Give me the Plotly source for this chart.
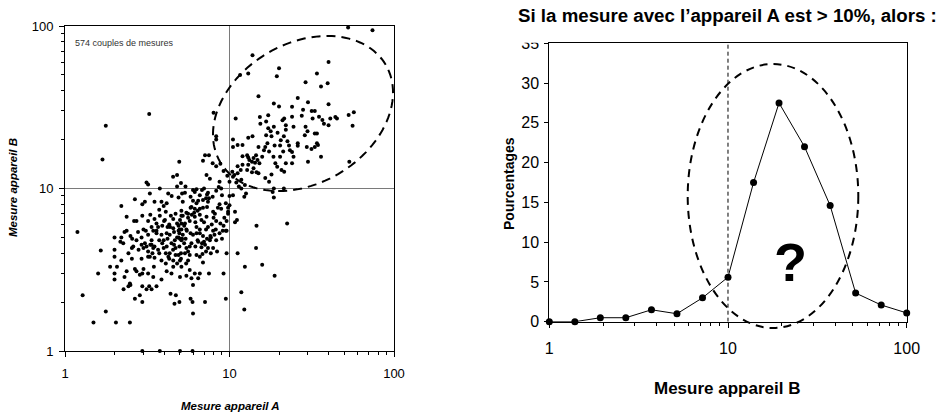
import math
import plotly.graph_objects as go

W, H = 946, 414
FONT = "Liberation Sans, Arial, sans-serif"

nuage_haut = [
    (52.6, 98), (74, 94), (13.8, 66), (40, 60), (20, 55), (19.4, 49), (11.6, 50), (13, 51),
    (34, 51), (29, 45), (39.5, 44.5), (36, 42.5), (15, 37), (26, 36), (40, 33), (30, 34),
    (18.6, 33.4), (20, 32), (24, 31.8), (28, 30.5), (31.6, 30), (33, 30), (57, 29.5), (53, 28.3),
    (44, 27.5), (45, 27), (32, 27), (24, 27.6), (21.5, 27), (21, 26.3), (27.5, 28), (15.3, 27.5),
    (16.7, 25.8), (17.2, 28.2), (15.4, 25), (18.6, 24), (22, 24.5), (24.5, 24), (35, 27.6),
    (36.7, 26.4), (37.5, 25), (40, 24.5), (41, 27), (29, 24), (28.7, 21.3), (29.8, 22.5),
    (33, 21.8), (56, 24.3), (53.5, 14.6), (17.2, 23.5), (17.8, 22.5), (16.7, 21.3), (18, 21),
    (19.6, 22), (20.5, 19.8), (21.4, 21), (22, 23), (22.5, 19.5), (20.3, 18.4), (18.8, 18.4),
    (17, 19), (16.5, 18), (15, 18), (13.8, 21), (13, 20.5), (12, 18.5), (10.5, 20), (10.5, 18),
    (11.2, 18.5), (23, 18.4), (23.3, 17.2), (26, 18.3), (26, 19), (29.5, 18), (31.5, 17.5),
    (33, 18), (34.5, 18.5), (34, 19), (34, 21.8), (36, 15.7), (30, 14.6), (24, 16.8),
    (24.5, 15.7), (24, 14.3), (22, 14.3), (21.5, 12.7), (20.7, 13), (18.5, 15.7), (19, 14.3),
    (19.5, 13.6), (18, 12.2), (17.4, 11), (16.5, 11.6), (15.2, 14.3), (15.8, 15.7), (14.5, 16),
    (14.8, 15), (14, 15.4), (13.7, 14.6), (14.3, 14.4), (14, 13.3), (14.6, 12.6), (13.7, 12.6),
    (13, 14), (12.8, 13), (13.2, 15), (12, 14), (11.7, 13), (11.2, 12.4), (10.7, 12.1), (10, 11),
    (10.4, 12.7), (11.2, 13.7), (12, 15.8), (12.8, 16), (13, 15.5), (16.2, 17.2), (17.4, 16.9),
    (21.2, 16.9), (20.3, 15.7), (15, 12.4), (11.8, 11.3), (12.4, 10.5), (11.4, 10.3), (11, 10.9),
    (10.5, 11.8), (9.7, 12), (9.2, 12.8), (8.8, 14.2), (8.3, 13.7), (7.9, 14.3), (8.7, 11),
    (6.9, 14.8), (7.1, 16), (7.5, 16), (8.3, 20), (8.3, 21), (8.0, 29.3), (10.9, 27), (3.25, 28.7),
    (1.77, 24.3), (1.69, 15.1), (4.95, 14.6), (4.8, 12.1),
]
nuage_droite = [
    (21.4, 10), (18.6, 10), (18.3, 9.5), (18.6, 8.8), (12.6, 9.3), (12.3, 8.9), (11.8, 10),
    (10.5, 9.1), (10, 9), (10, 7.9), (9.8, 7.2), (10.8, 7.2), (11.1, 6.4), (10.8, 6.2), (11.2, 4.0),
    (14.5, 4.3), (14.6, 5.9), (12.4, 3.3), (15.8, 3.4), (18.8, 2.9), (22.4, 6.1), (11.8, 2.3),
    (12.3, 1.8), (9.5, 2.1), (9.2, 3.0), (9.6, 5.5), (9.6, 4.0),
]
nuage_bas = [
    (1.19, 5.4), (1.28, 2.2), (1.49, 1.5), (1.59, 3.0), (1.65, 4.15), (1.77, 1.75), (2.04, 1.5),
    (2.48, 1.5), (1.88, 3.3), (2.0, 3.0), (2.0, 2.75), (2.07, 3.3), (2.0, 4.2), (2.0, 5.0),
    (2.2, 7.8), (2.2, 5.0), (2.27, 2.4), (2.37, 5.5), (2.37, 6.7), (2.43, 2.5), (2.48, 2.6),
    (2.56, 4.9), (2.43, 4.0), (2.55, 3.7), (2.37, 3.1), (2.66, 3.2), (2.66, 2.1), (2.66, 8.6),
    (2.63, 6.3), (2.72, 6.3), (2.78, 5.4), (2.72, 3.1), (2.85, 2.95), (2.85, 2.2), (2.95, 2.0),
    (2.95, 3.0), (2.92, 4.5), (2.92, 5.0), (2.95, 6.8), (2.95, 8.0), (3.06, 8.3), (3.13, 10.9),
    (3.2, 10.6), (3.28, 9.3), (3.1, 5.5), (3.13, 4.4), (3.2, 3.8), (3.28, 3.8), (3.2, 3.0),
    (3.25, 2.5), (3.36, 2.4), (3.47, 3.3), (3.44, 4.3), (3.36, 4.5), (3.44, 5.5), (3.5, 6.5),
    (3.5, 8.3), (3.77, 10), (3.86, 8.3), (3.74, 7.4), (3.68, 5.8), (3.6, 5.3), (3.74, 4.8),
    (3.74, 4.0), (3.86, 3.6), (3.98, 4.3), (4.0, 6.3), (4.05, 6.4), (4.15, 5.3), (4.2, 5.8),
    (4.24, 9.3), (4.33, 5.2), (4.44, 4.6), (4.54, 11.8), (4.54, 4.2), (4.44, 3.0), (4.38, 2.25),
    (4.63, 1.95), (4.72, 2.2), (4.96, 2.0), (5.07, 10.8), (5.1, 6.8), (5.0, 6.4), (4.96, 5.3),
    (4.9, 5.0), (5.0, 4.9), (5.1, 4.8), (4.96, 4.4), (5.07, 4.0), (5.0, 3.6), (5.1, 3.3),
    (5.0, 2.85), (5.36, 9.4), (5.47, 5.6), (5.36, 6.1), (5.41, 4.9), (5.47, 4.3), (5.45, 3.45),
    (5.47, 2.9), (5.6, 7.0), (5.73, 6.3), (5.8, 5.3), (5.87, 4.6), (5.73, 3.15), (5.87, 2.8),
    (6.0, 2.55), (5.8, 2.1), (5.96, 2.0), (6.0, 1.7), (6.15, 7.5), (6.15, 6.7), (6.3, 5.8),
    (6.45, 4.7), (6.3, 3.9), (6.15, 3.0), (6.45, 2.8), (6.6, 3.0), (6.6, 3.8), (6.75, 4.35),
    (6.6, 5.3), (6.75, 6.4), (6.6, 7.5), (7.0, 10), (7.1, 4.5), (7.2, 5.6), (7.25, 6.7),
    (7.3, 7.7), (7.4, 8.3), (7.4, 9.4), (7.5, 3.0), (7.6, 4.8), (7.65, 5.1), (7.95, 5.5),
    (8.15, 7.0), (8.25, 5.6), (8.4, 4.1), (8.5, 7.6), (8.7, 5.3), (9.0, 4.9), (9.1, 5.5),
    (8.9, 7.5), (9.5, 5.5), (9.3, 6.6), (9.8, 7.0), (8.9, 10.0), (7.5, 8.7), (7.3, 9.2),
    (6.9, 8.5), (6.6, 9.1), (6.15, 9.5), (6.9, 7.6), (5.47, 7.1), (5.2, 6.8), (5.1, 6.1),
    (4.8, 6.1), (4.55, 5.7), (4.35, 5.8), (4.15, 4.4), (4.1, 4.0), (4.25, 3.8), (4.1, 3.45),
    (4.55, 3.3), (4.9, 3.9), (4.7, 4.3), (4.65, 4.8), (3.68, 4.2), (3.5, 3.75), (3.4, 4.0),
    (3.3, 4.5), (3.36, 4.8), (3.2, 5.2), (3.06, 4.6), (3.0, 4.3), (2.92, 3.7), (3.0, 3.2),
    (2.95, 2.5), (3.13, 2.4), (3.44, 2.85), (3.6, 2.5), (3.86, 2.75), (4.15, 3.1), (5.1, 7.3),
    (5.87, 7.7), (6.3, 8.1), (6.0, 8.4), (6.45, 8.4), (7.95, 7.2), (8.3, 6.3), (8.7, 8.0),
    (6.4, 4.8), (7.0, 4.7), (7.4, 4.3), (6.6, 5.6), (6.0, 5.2), (5.73, 4.4), (5.36, 4.0),
    (5.07, 3.7), (4.8, 3.45), (4.55, 3.6), (4.33, 4.0), (3.98, 4.8), (3.86, 5.2), (3.6, 5.5),
    (3.36, 5.8), (3.2, 6.3), (3.0, 5.6), (2.72, 4.8), (2.6, 4.4), (2.55, 4.3), (2.26, 4.6),
    (2.17, 4.7), (2.0, 3.8), (2.2, 3.6), (2.3, 2.85), (2.5, 2.55), (4.9, 8.8), (4.45, 9.0),
    (4.8, 10.3), (5.15, 9.3), (6.0, 9.8), (5.4, 10.3), (4.15, 8.1), (3.98, 7.8), (3.77, 6.8),
    (4.7, 7.0), (4.55, 6.5), (5.1, 5.6), (5.5, 5.5), (4.9, 5.5), (5.2, 5.2), (5.15, 4.9),
    (4.8, 5.0), (4.97, 5.6), (6.3, 5.3), (6.9, 5.1), (7.3, 4.9), (7.7, 5.0), (8.1, 5.2),
    (8.3, 4.8), (7.95, 4.3), (7.7, 4.0), (6.85, 3.95), (5.73, 3.9), (3.77, 1.0), (5.0, 1.0),
    (5.96, 1.0), (2.95, 1.0), (7.1, 2.0), (8.3, 9.7), (8.6, 10.2), (9.0, 9.1), (7.6, 11.5),
    (7.25, 12.1), (9.5, 8.1), (9.8, 7.6),
]
nuage_coeur = [
    (4.3, 6.0), (4.6, 5.4), (4.9, 5.9), (5.3, 5.9), (5.6, 6.6), (5.9, 6.9), (6.2, 6.2), (6.6, 6.9),
    (7.0, 6.2), (7.4, 5.8), (7.8, 6.0), (8.0, 6.6), (6.1, 7.1), (6.4, 7.3), (5.8, 7.6), (4.4, 6.8),
    (4.1, 7.2), (3.9, 5.9), (3.6, 6.1), (3.3, 6.9), (3.9, 4.6), (4.2, 4.9), (4.6, 4.5), (5.3, 4.6),
    (5.6, 4.1), (6.2, 4.4), (6.8, 4.6), (7.2, 4.1), (3.5, 4.4), (3.2, 4.1), (2.8, 4.2), (2.5, 5.1),
    (2.3, 5.4), (4.3, 3.7), (4.7, 3.9), (5.6, 3.6), (6.9, 3.5), (8.8, 6.1), (9.2, 5.9), (9.6, 6.3),
    (6.3, 9.9), (6.8, 9.8), (7.2, 8.7), (7.9, 8.9), (5.8, 8.9), (5.2, 8.3),
]
couples = nuage_haut + nuage_droite + nuage_bas + nuage_coeur
mesure_a = [p[0] for p in couples]
mesure_b = [p[1] for p in couples]

# ---- Right chart: distribution of B when A > 10 ----
classes_b = [1, 1.39, 1.93, 2.68, 3.73, 5.18, 7.2, 10, 13.9, 19.3, 26.8, 37.3, 51.8, 72, 100]
pourcentages = [0, 0, 0.5, 0.5, 1.5, 1.0, 3.0, 5.6, 17.5, 27.5, 22.0, 14.6, 3.6, 2.1, 1.1]

log_ticks = [1, 10, 100]
log_ticktext = ["1", "10", "100"]
minor_vals = [k * 10 ** d for d in (0, 1) for k in range(2, 10)]
y2_ticks = [0, 5, 10, 15, 20, 25, 30, 35]


def px(x):
    return x / W


def py(y):
    return 1 - y / H


fig = go.Figure()

# left reference lines at 10
fig.add_trace(go.Scatter(x=[10, 10], y=[1, 100], mode="lines",
                         line=dict(color="#7a7a7a", width=1), xaxis="x", yaxis="y", hoverinfo="skip"))
fig.add_trace(go.Scatter(x=[1, 100], y=[10, 10], mode="lines",
                         line=dict(color="#7a7a7a", width=1), xaxis="x", yaxis="y", hoverinfo="skip"))
fig.add_trace(go.Scatter(x=mesure_a, y=mesure_b, mode="markers",
                         marker=dict(color="black", size=4, line=dict(width=0)),
                         cliponaxis=False, xaxis="x", yaxis="y"))

# right chart
fig.add_trace(go.Scatter(x=[10, 10], y=[0, 35], mode="lines",
                         line=dict(color="black", width=1, dash="4px,3px"),
                         xaxis="x2", yaxis="y2", hoverinfo="skip"))
fig.add_trace(go.Scatter(x=classes_b, y=pourcentages, mode="lines+markers",
                         line=dict(color="black", width=1),
                         marker=dict(color="black", size=7),
                         cliponaxis=False, xaxis="x2", yaxis="y2"))


def log_axis(domain, anchor, fsize, standoff):
    return dict(type="log", range=[0, 2], domain=domain, anchor=anchor, automargin=False,
                showline=True, mirror=True, linecolor="black", linewidth=1,
                ticks="outside", ticklen=5, tickcolor="black",
                tickvals=log_ticks, ticktext=log_ticktext,
                showgrid=False, zeroline=False,
                tickfont=dict(size=fsize, color="black", family=FONT),
                ticklabelstandoff=standoff,
                minor=dict(tickvals=minor_vals, ticks="outside", ticklen=3,
                           tickcolor="black", showgrid=False))


xa = log_axis([px(65), px(394)], "y", 13, 5)
ya = log_axis([py(351), py(26)], "x", 13, 3)
xb = log_axis([px(549.3), px(906.7)], "y2", 16, 7)
yb = dict(range=[0, 35], domain=[py(321.7), py(43.3)], anchor="x2", automargin=False,
          showline=True, mirror=True, linecolor="black", linewidth=1,
          ticks="outside", ticklen=4, tickcolor="black", tickvals=y2_ticks,
          showgrid=False, zeroline=False,
          tickfont=dict(size=16, color="black", family=FONT), ticklabelstandoff=2)


# dashed ellipses (decorations, in pixel space -> paper)
def ellipse_path(cx, cy, a, b, theta_deg, n=120):
    th = math.radians(theta_deg)
    pts = []
    for i in range(n):
        t = 2 * math.pi * i / n
        x = cx + a * math.cos(t) * math.cos(th) - b * math.sin(t) * math.sin(th)
        y = cy - (a * math.cos(t) * math.sin(th) + b * math.sin(t) * math.cos(th))
        pts.append(f"{px(x):.5f},{py(y):.5f}")
    return "M" + " L".join(pts) + " Z"


shapes = [
    dict(type="path", xref="paper", yref="paper", path=ellipse_path(303, 113.5, 96, 70, 30.5),
         line=dict(color="black", width=2, dash="9px,6px"), layer="above"),
    dict(type="circle", xref="paper", yref="paper",
         x0=px(687.7), x1=px(858.3), y0=py(328), y1=py(64),
         line=dict(color="black", width=2, dash="8px,6px"), layer="above"),
    # the "35" label is cut by the frame in the original
    dict(type="rect", xref="paper", yref="paper", x0=px(510), x1=px(547.5),
         y0=py(42.8), y1=py(28), fillcolor="white", line=dict(width=0), layer="above"),
]

annotations = [
    dict(text="<b>Si la mesure avec l’appareil A est &gt; 10%, alors :</b>",
         x=px(727), y=py(15), font=dict(size=18.7)),
    dict(text="574 couples de mesures", x=px(72.5), y=py(42.5), xanchor="left",
         font=dict(size=9, color="#333333")),
    dict(text="<b><i>Mesure appareil A</i></b>", x=px(230), y=py(406), font=dict(size=11.5)),
    dict(text="<b><i>Mesure appareil B</i></b>", x=px(13), y=py(188), textangle=-90,
         font=dict(size=11.5)),
    dict(text="<b>Mesure appareil B</b>", x=px(727), y=py(388), font=dict(size=17)),
    dict(text="<b>Pourcentages</b>", x=px(509), y=py(184), textangle=-90, font=dict(size=14)),
    dict(text="<b>?</b>", x=px(790), y=py(262), font=dict(size=54)),
]
for a in annotations:
    a.update(xref="paper", yref="paper", showarrow=False)
    a.setdefault("xanchor", "center")
    a["yanchor"] = "middle"
    a["font"].update(family=FONT, color=a["font"].get("color", "black"))

fig.update_layout(
    width=W, height=H, margin=dict(l=0, r=0, t=0, b=0, autoexpand=False),
    paper_bgcolor="white", plot_bgcolor="white", showlegend=False,
    xaxis=xa, yaxis=ya, xaxis2=xb, yaxis2=yb,
    shapes=shapes, annotations=annotations,
    font=dict(family=FONT, color="black"),
)

fig.write_html("out.html")
